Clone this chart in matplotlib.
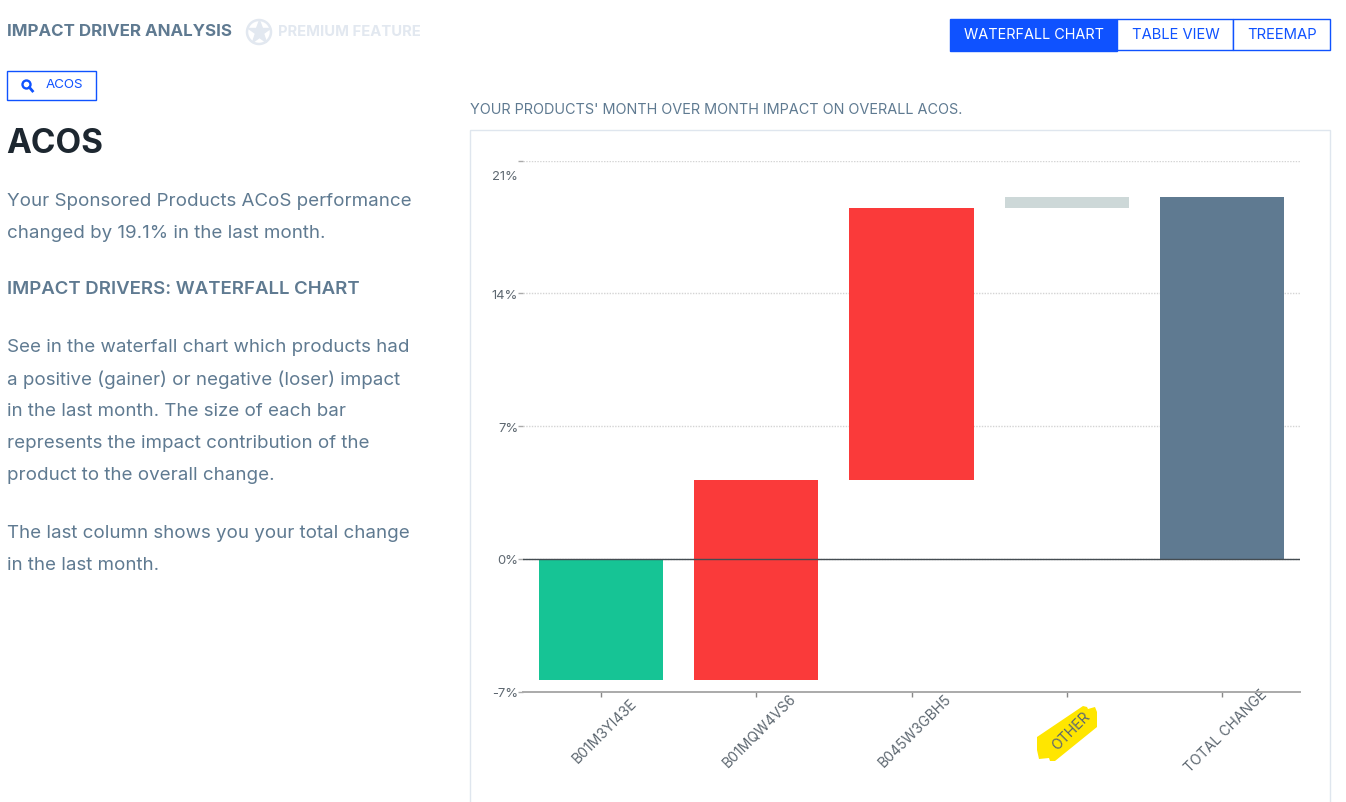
import matplotlib
matplotlib.use("Agg")
import matplotlib.pyplot as plt
from matplotlib.patches import Rectangle, Circle, Polygon
from matplotlib.transforms import ScaledTranslation

plt.rcParams["font.family"] = ["Inter", "DejaVu Sans"]

W, H = 1346, 802

products = ["B01M3YI43E", "B01MQW4VS6", "B045W3GBH5", "OTHER", "TOTAL CHANGE"]
bar_bottoms = [0, -6.38, 4.16, 18.5, 0]
bar_heights = [-6.38, 10.54, 14.34, 0.6, 19.1]
bar_colors = ["#16c495", "#fa3a3a", "#fa3a3a", "#cdd8d8", "#5f7a91"]
y_ticks = [-7, 0, 7, 14, 21]
y_labels = ["-7%", "0%", "7%", "14%", "21%"]

body_lines = [
    (199, "Your Sponsored Products ACoS performance"),
    (231, "changed by 19.1% in the last month."),
    (346, "See in the waterfall chart which products had"),
    (378, "a positive (gainer) or negative (loser) impact"),
    (410, "in the last month. The size of each bar"),
    (442, "represents the impact contribution of the"),
    (474, "product to the overall change."),
    (531, "The last column shows you your total change"),
    (563, "in the last month."),
]

SLATE = "#5f7a91"
BLUE = "#0f52ff"
PALE = "#e2e8f0"

fig = plt.figure(figsize=(W / 100, H / 100), dpi=100, facecolor="white")

# page furniture, in pixel coordinates
bg = fig.add_axes([0, 0, 1, 1], zorder=0)
bg.set_xlim(0, W)
bg.set_ylim(H, 0)
bg.axis("off")


def put(x, y, s, size, color=SLATE, weight="normal", ha="left"):
    bg.text(x, y + 1.5, s, fontsize=size, color=color, fontweight=weight, ha=ha, va="center")


put(7, 30.5, "IMPACT DRIVER ANALYSIS", 12.2, weight="bold")
bg.add_patch(Circle((259, 32), 12, fc="none", ec=PALE, lw=1.8))
bg.plot([259], [31.5], marker="*", ms=17, color=PALE, mec=PALE)
put(278, 31, "PREMIUM FEATURE", 10.7, color=PALE, weight="bold")

# search box
bg.add_patch(Rectangle((7, 71), 89, 29, fc="white", ec=BLUE, lw=1))
bg.add_patch(Circle((26.5, 84.5), 4, fc="none", ec=BLUE, lw=1.7))
bg.plot([29.5, 32.5], [87.5, 91], color=BLUE, lw=2)
put(46, 84, "ACOS", 9.6, color=BLUE)

put(6.5, 142.5, "ACOS", 24, color="#1d2730", weight="bold")

for y, line in body_lines:
    put(7, y + 0.5, line, 13.5, weight="normal")
put(7, 288, "IMPACT DRIVERS: WATERFALL CHART", 13.4, weight="semibold")

# view buttons
bg.add_patch(Rectangle((949.5, 18.5), 167.5, 32, fc=BLUE, ec=BLUE, lw=1))
bg.add_patch(Rectangle((1117, 19), 116, 31, fc="white", ec=BLUE, lw=1))
bg.add_patch(Rectangle((1233, 19), 97, 31, fc="white", ec=BLUE, lw=1))
put(1033.5, 33.5, "WATERFALL CHART", 10.4, color="white", ha="center")
put(1175.5, 33.5, "TABLE VIEW", 10.6, color=BLUE, ha="center")
put(1282, 33.5, "TREEMAP", 10.7, color=BLUE, ha="center")

put(470.5, 108, "YOUR PRODUCTS' MONTH OVER MONTH IMPACT ON OVERALL ACOS.", 10.4)

# chart card runs off the bottom of the screenshot
bg.add_patch(Rectangle((470, 130), 860, 700, fc="white", ec="#dfe6ee", lw=1))

# marker highlight behind OTHER
bg.add_patch(Polygon(
    [(1037, 737), (1083, 706), (1087, 707), (1088, 709), (1095, 707), (1097, 712),
     (1097, 727), (1055, 761), (1050, 761), (1049, 758), (1039, 759), (1037, 750)],
    fc="#ffe600", ec="none"))

# waterfall
ax = fig.add_axes([523 / W, 1 - 691.7 / H, 777 / W, 531 / H], zorder=1)
ax.patch.set_alpha(0)
ax.bar(range(len(products)), bar_heights, bottom=bar_bottoms, width=0.8, color=bar_colors, zorder=2)
ax.set_xlim(-0.5, 4.5)
ax.set_ylim(-7, 21)

for side in ["top", "right", "left"]:
    ax.spines[side].set_visible(False)
ax.spines["bottom"].set_color("#aaaaaa")
ax.spines["bottom"].set_linewidth(1.4)

ax.axhline(0, color="#444c52", lw=1, zorder=3)
ax.set_yticks(y_ticks)
ax.set_yticklabels(y_labels)
ax.tick_params(axis="y", length=3.5, width=1, color="#aaaaaa", pad=0, labelsize=9.4, labelcolor="#5d6770")
ax.grid(axis="y", color="#d4d4d4", lw=1, ls=(0, (1, 1)), zorder=1)
ax.set_axisbelow(True)

ax.set_xticks(range(len(products)))
ax.set_xticklabels(products, rotation=45, ha="center", va="center")
ax.tick_params(axis="x", length=3.5, width=1, color="#888888", pad=25, labelsize=10.1, labelcolor="#5d6770")

# small shifts: y labels a pixel down, top one below its line, x labels right of the tick
for lab, tick in zip(ax.get_yticklabels(), y_ticks):
    shift = 15 if tick == 21 else 1
    lab.set_transform(lab.get_transform() + ScaledTranslation(0, -shift / 100, fig.dpi_scale_trans))
for lab in ax.get_xticklabels():
    lab.set_transform(lab.get_transform() + ScaledTranslation(4 / 100, 0, fig.dpi_scale_trans))

fig.savefig("out.png", dpi=100)
